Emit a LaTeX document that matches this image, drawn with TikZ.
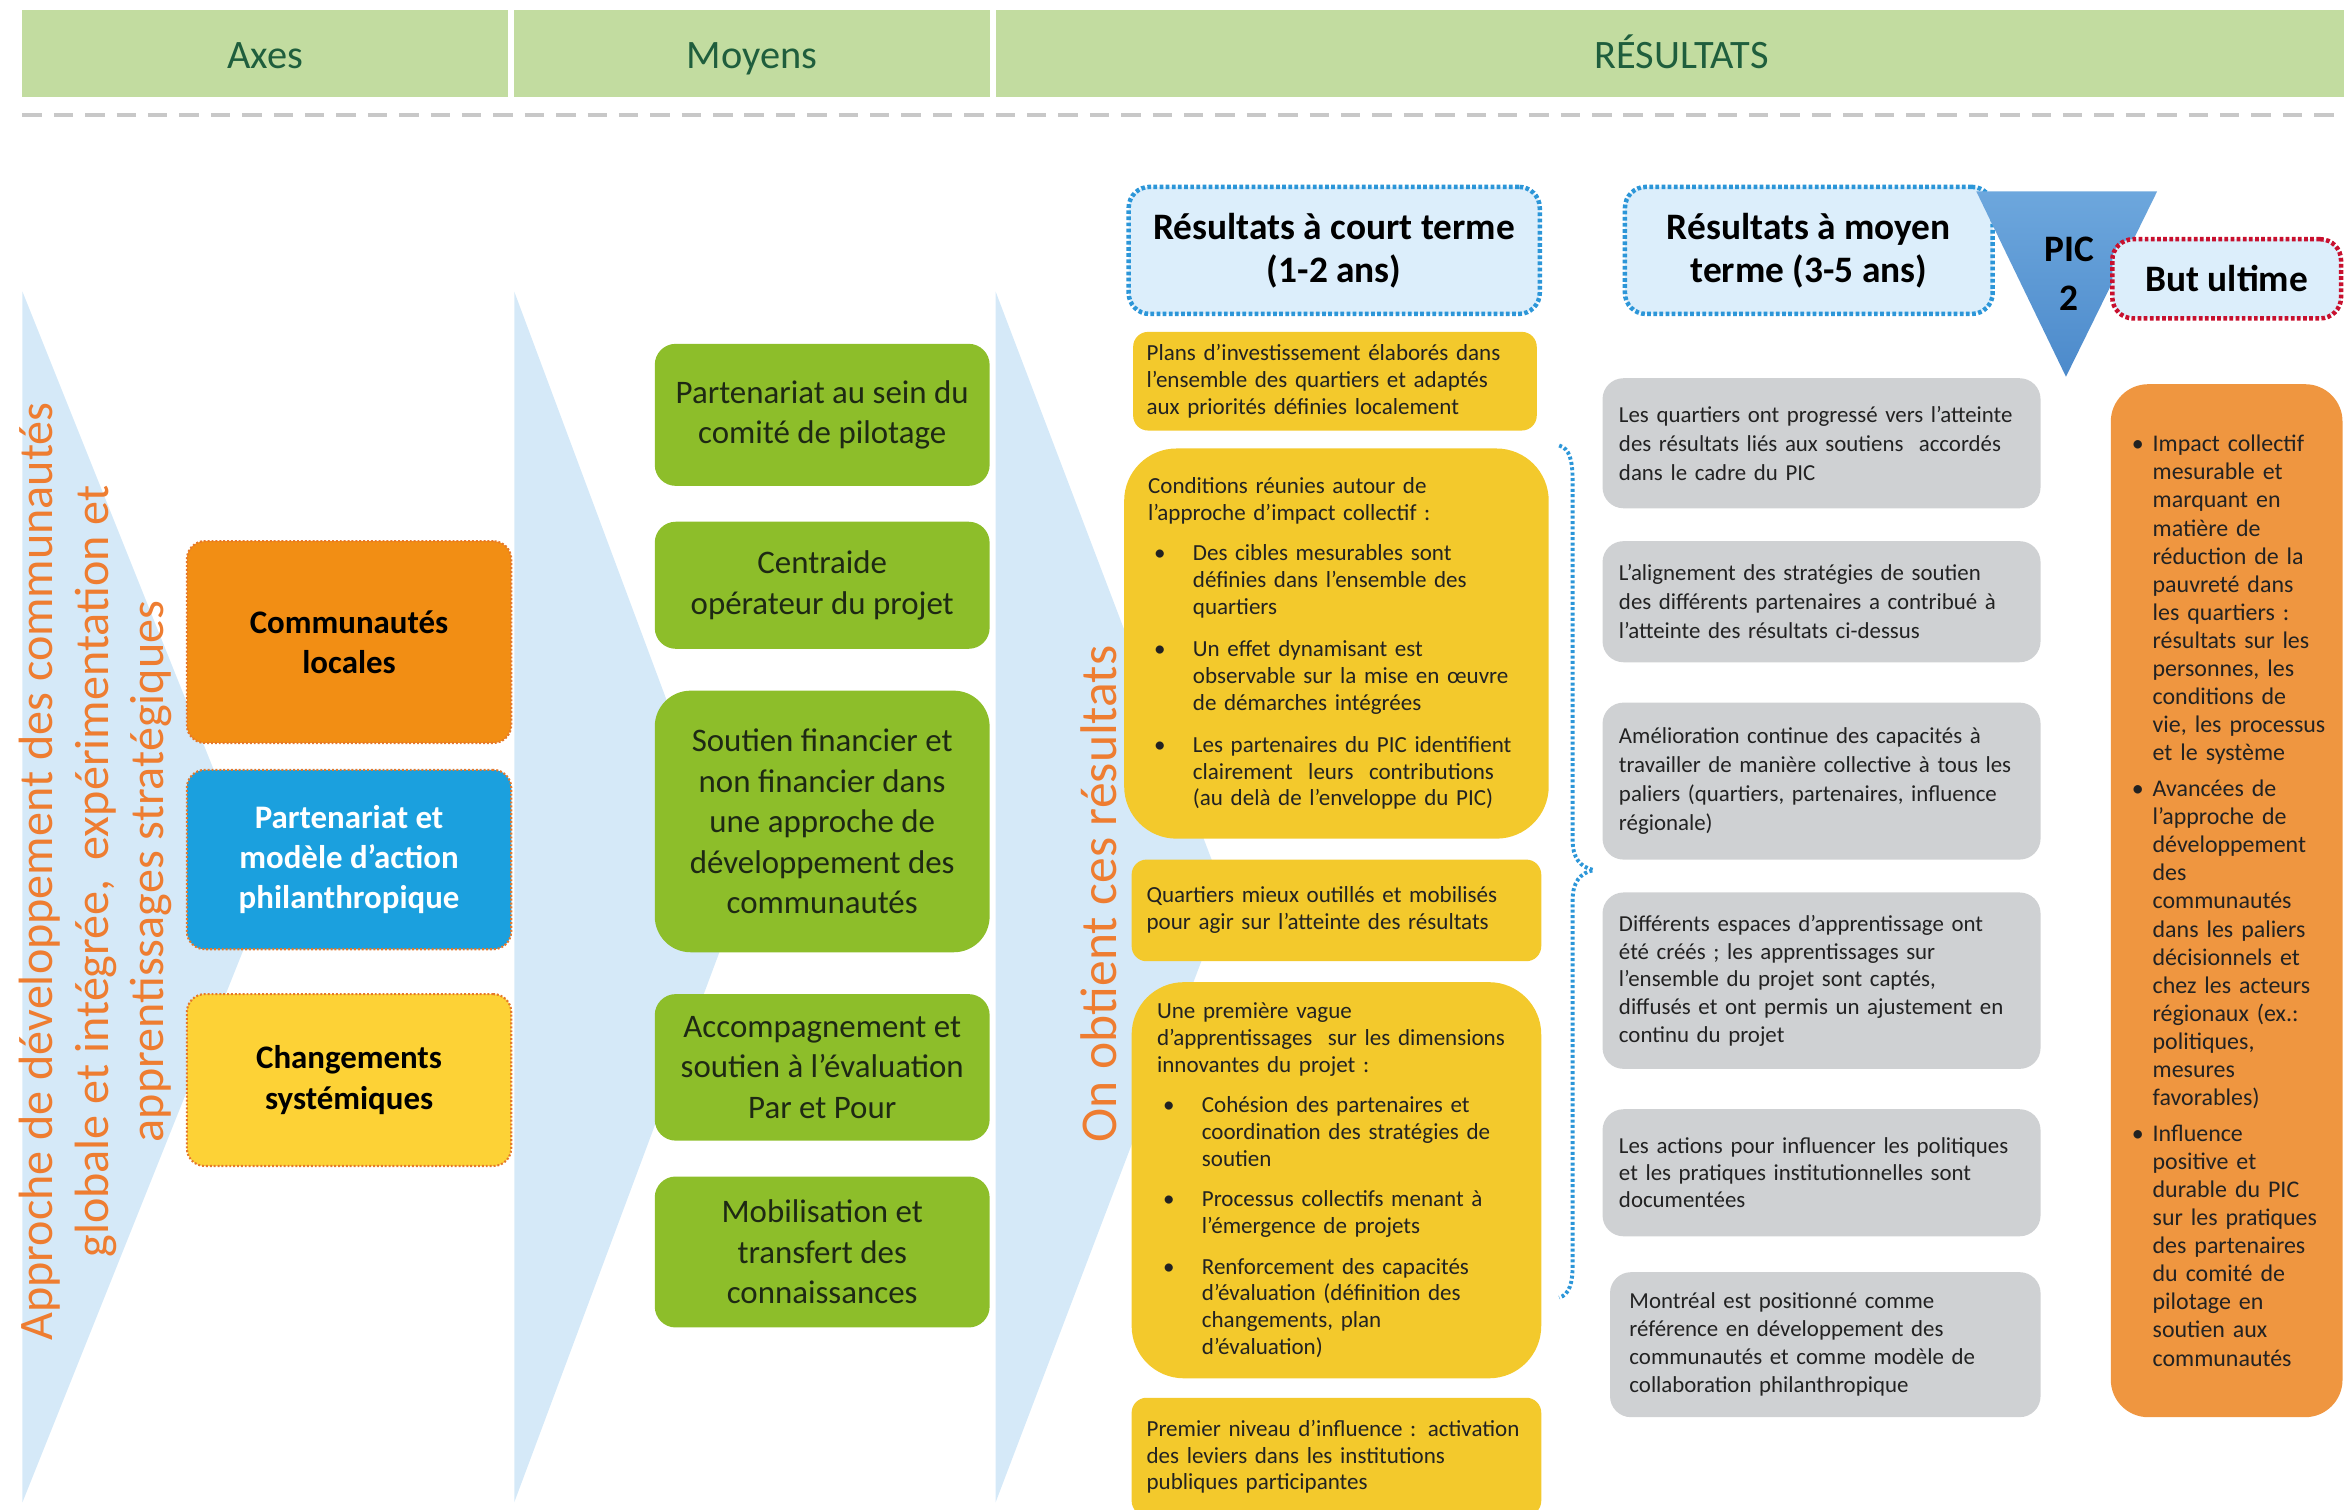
\documentclass[tikz,border=0pt]{standalone}
\usepackage{fontspec}
\setmainfont{Carlito}

\definecolor{hdrgreen}{HTML}{C2DCA0}
\definecolor{hdrtext}{HTML}{1F5E3D}
\definecolor{sepgray}{HTML}{C8C8C8}
\definecolor{chevblue}{HTML}{D5E9F8}
\definecolor{titleorange}{HTML}{EE7D31}
\definecolor{axorange}{HTML}{F28E14}
\definecolor{axblue}{HTML}{1BA0DE}
\definecolor{axyellow}{HTML}{FDD236}
\definecolor{axborder}{HTML}{E5782B}
\definecolor{moyengreen}{HTML}{8DBE2A}
\definecolor{moyentext}{HTML}{1E2914}
\definecolor{lightblue}{HTML}{DCEEFB}
\definecolor{dotblue}{HTML}{2C96D8}
\definecolor{dotred}{HTML}{C8102E}
\definecolor{resyellow}{HTML}{F3C92C}
\definecolor{resgray}{HTML}{CFD1D3}
\definecolor{ultorange}{HTML}{EF9640}
\definecolor{pictop}{HTML}{6DA7DD}
\definecolor{picbottom}{HTML}{4C8ACB}
\definecolor{bodytext}{HTML}{222222}

% bullet helpers for the result lists
\newcommand{\ydot}{\makebox[30pt][l]{\hspace{4pt}•}}
\newcommand{\yind}{\hspace*{30pt}}
\newcommand{\udot}{\makebox[18pt][l]{\hspace{4pt}•}}
\newcommand{\uind}{\hspace*{18pt}}

\begin{document}
\begin{tikzpicture}[x=1pt,y=-1pt,
  hdr/.style={fill=hdrgreen, text=hdrtext, font=\fontsize{27}{30}\selectfont,
    minimum height=58pt, inner sep=0pt, text height=19pt, text depth=0pt},
  axebox/.style={rounded corners=12pt, draw=axborder, dash pattern=on 1.3pt off 1.3pt,
    line width=1.4pt, font=\bfseries\fontsize{22}{27}\selectfont, align=center,
    minimum width=217pt, inner sep=0pt},
  moyen/.style={rounded corners=14pt, fill=moyengreen, text=moyentext,
    font=\fontsize{22}{27}\selectfont, align=center, minimum width=224pt, inner sep=0pt},
  termbox/.style={rounded corners=14pt, fill=lightblue, draw=dotblue, line width=3pt,
    dash pattern=on 2.5pt off 1.6pt, font=\bfseries\fontsize{25}{29}\selectfont,
    align=center, inner sep=0pt},
  yel/.style={rounded corners=10pt, fill=resyellow, text=bodytext,
    font=\fontsize{15.4}{18}\selectfont, align=left, inner ysep=0pt},
  gry/.style={rounded corners=14pt, fill=resgray, text=bodytext,
    font=\fontsize{15.3}{19.5}\selectfont, align=left, inner ysep=0pt, inner xsep=11pt},
  vtitle/.style={rotate=90, text=titleorange, align=center},
  brace/.style={draw=dotblue, line width=2.6pt, dash pattern=on 2pt off 1.6pt}
]
\useasboundingbox (0,0) rectangle (1568,1010);

% header band
\node[hdr, minimum width=325pt] (hAxes) at (177.5,36) {Axes};
\node[hdr, minimum width=318pt] (hMoy) at (503,36) {Moyens};
\node[hdr, minimum width=918pt] (hRes) at (1125,36) {RÉSULTATS};
\coordinate (sepL) at (15,77);
\coordinate (sepR) at (1568,77);
\draw[sepgray, line width=3pt, dash pattern=on 13pt off 8pt] (sepL) -- (sepR);

% light blue chevrons
\fill[chevblue] (15,195) -- (177,600) -- (15,1005) -- cycle;
\fill[chevblue] (344,195) -- (495,600) -- (344,1005) -- cycle;
\fill[chevblue] (666,195) -- (820,600) -- (666,1005) -- cycle;

% vertical titles
\node[vtitle, font=\fontsize{32.2}{37}\selectfont] (axeTitle) at (64,583) {Approche de développement des communautés\\globale et intégrée,\, expérimentation et\\apprentissages stratégiques};
\node[vtitle, font=\fontsize{34.5}{37}\selectfont] (obtient) at (735,598) {On obtient ces résultats};

% axes
\node[axebox, fill=axorange, minimum height=135pt] (a1) at (233.5,429.5) {Communautés\\locales};
\node[axebox, fill=axblue, text=white, minimum height=120pt] (a2) at (233.5,575) {Partenariat et\\modèle d’action\\philanthropique};
\node[axebox, fill=axyellow, minimum height=115pt] (a3) at (233.5,722.5) {Changements\\systémiques};

% means
\node[moyen, minimum height=95pt] (m1) at (550,277.5) {Partenariat au sein du\\comité de pilotage};
\node[moyen, minimum height=85pt] (m2) at (550,391.5) {Centraide\\opérateur du projet};
\node[moyen, minimum height=175pt, rounded corners=24pt] (m3) at (550,549.5) {Soutien financier et\\non financier dans\\une approche de\\développement des\\communautés};
\node[moyen, minimum height=98pt] (m4) at (550,714) {Accompagnement et\\soutien à l’évaluation\\Par et Pour};
\node[moyen, minimum height=101pt] (m5) at (550,837.5) {Mobilisation et\\transfert des\\connaissances};

% result headings
\node[termbox, minimum width=275pt, minimum height=85pt] (ct) at (892.5,167.5) {Résultats à court terme\\(1-2 ans)};
\node[termbox, minimum width=246pt, minimum height=85pt] (mt) at (1210,167.5) {Résultats à moyen\\terme (3-5 ans)};
\coordinate (picA) at (1322,128);
\coordinate (picB) at (1443,128);
\coordinate (picC) at (1382,252);
\shade[top color=pictop, bottom color=picbottom] (picA) -- (picB) -- (picC) -- cycle;
\node[font=\bfseries\fontsize{25}{33}\selectfont, align=center, inner sep=0pt] (pic) at (1384,183) {PIC\\2};
\node[termbox, draw=dotred, minimum width=153pt, minimum height=53pt] (bu) at (1489.5,186.5) {But ultime};

% short-term results
\node[yel, inner xsep=9pt, text width=252pt, minimum height=66pt] (y1) at (893,255)
  {Plans d’investissement élaborés dans\\l’ensemble des quartiers et adaptés\\aux priorités définies localement};
\node[yel, rounded corners=35pt, inner xsep=16pt, text width=252pt, minimum height=261pt] (y2) at (894,430.5)
  {Conditions réunies autour de\\l’approche d’impact collectif :\\[9pt]
   \ydot Des cibles mesurables sont\\\yind définies dans l’ensemble des\\\yind quartiers\\[10pt]
   \ydot Un effet dynamisant est\\\yind observable sur la mise en œuvre\\\yind de démarches intégrées\\[10pt]
   \ydot Les partenaires du PIC identifient\\\yind clairement\ \ leurs\ \ contributions\\\yind (au delà de l’enveloppe du PIC)};
\node[yel, inner xsep=10pt, text width=254pt, minimum height=68pt] (y3) at (894,609)
  {Quartiers mieux outillés et mobilisés\\pour agir sur l’atteinte des résultats};
\node[yel, rounded corners=35pt, inner xsep=17pt, text width=240pt, minimum height=265pt] (y4) at (894,789.5)
  {Une première vague\\d’apprentissages\ \ sur les dimensions\\innovantes du projet :\\[9pt]
   \ydot Cohésion des partenaires et\\\yind coordination des stratégies de\\\yind soutien\\[9pt]
   \ydot Processus collectifs menant à\\\yind l’émergence de projets\\[9pt]
   \ydot Renforcement des capacités\\\yind d’évaluation (définition des\\\yind changements, plan\\\yind d’évaluation)};
\node[yel, inner xsep=10pt, text width=254pt, minimum height=79pt] (y5) at (894,974.5)
  {Premier niveau d’influence : activation\\des leviers dans les institutions\\publiques participantes};

% brace grouping the short-term results
\coordinate (brTop) at (1043,298);
\coordinate (brTip) at (1066,582);
\coordinate (brBot) at (1043,868);
\draw[brace] (brTop) .. controls (1050,300) and (1052,308) .. (1052,322)
  -- (1052,562) .. controls (1052,574) and (1057,580) .. (brTip)
  .. controls (1057,584) and (1052,590) .. (1052,602)
  -- (1052,846) .. controls (1052,858) and (1050,866) .. (brBot);

% medium-term results
\node[gry, text width=271pt, minimum height=87pt] (g1) at (1218.5,296.5)
  {Les quartiers ont progressé vers l’atteinte\\des résultats liés aux soutiens\ \ accordés\\dans le cadre du PIC};
\node[gry, text width=271pt, minimum height=81pt] (g2) at (1218.5,402.5)
  {L’alignement des stratégies de soutien\\des différents partenaires a contribué à\\l’atteinte des résultats ci-dessus};
\node[gry, text width=271pt, minimum height=105pt] (g3) at (1218.5,522.5)
  {Amélioration continue des capacités à\\travailler de manière collective à tous les\\paliers (quartiers, partenaires, influence\\régionale)};
\node[gry, text width=271pt, minimum height=118pt, font=\fontsize{15.3}{18.5}\selectfont] (g4) at (1218.5,656)
  {Différents espaces d’apprentissage ont\\été créés ; les apprentissages sur\\l’ensemble du projet sont captés,\\diffusés et ont permis un ajustement en\\continu du projet};
\node[gry, text width=271pt, minimum height=85pt, font=\fontsize{15.3}{18}\selectfont] (g5) at (1218.5,784.5)
  {Les actions pour influencer les politiques\\et les pratiques institutionnelles sont\\documentées};
\node[gry, inner xsep=13pt, text width=262pt, minimum height=97pt, font=\fontsize{15.3}{18.7}\selectfont] (g6) at (1221,899.5)
  {Montréal est positionné comme\\référence en développement des\\communautés et comme modèle de\\collaboration philanthropique};

% ultimate goal
\node[fill=ultorange, rounded corners=25pt, text=bodytext, font=\fontsize{16}{18.8}\selectfont,
  align=left, inner xsep=10pt, inner ysep=0pt, text width=135pt, minimum height=691pt] (ult) at (1489.5,602.5)
  {\udot Impact collectif\\\uind mesurable et\\\uind marquant en\\\uind matière de\\\uind réduction de la\\\uind pauvreté dans\\\uind les quartiers :\\\uind résultats sur les\\\uind personnes, les\\\uind conditions de\\\uind vie, les processus\\\uind et le système\\[5pt]
   \udot Avancées de\\\uind l’approche de\\\uind développement\\\uind des\\\uind communautés\\\uind dans les paliers\\\uind décisionnels et\\\uind chez les acteurs\\\uind régionaux (ex.:\\\uind politiques,\\\uind mesures\\\uind favorables)\\[5pt]
   \udot Influence\\\uind positive et\\\uind durable du PIC\\\uind sur les pratiques\\\uind des partenaires\\\uind du comité de\\\uind pilotage en\\\uind soutien aux\\\uind communautés};
\end{tikzpicture}
\end{document}
